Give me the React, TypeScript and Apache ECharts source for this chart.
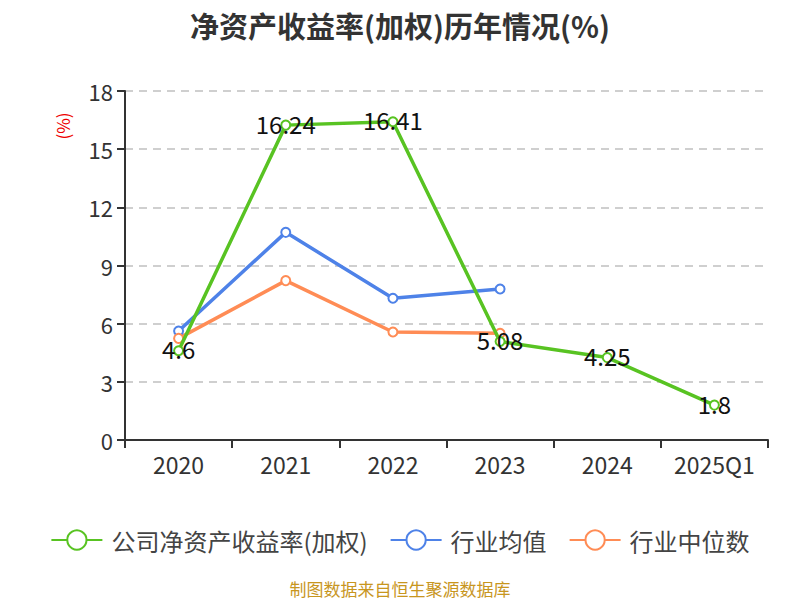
import React, { useEffect, useRef } from "react";
import * as echarts from "echarts";

const categories = ["2020", "2021", "2022", "2023", "2024", "2025Q1"];
const companyRoe = [4.6, 16.24, 16.41, 5.08, 4.25, 1.8];
const industryAvg = [5.62, 10.71, 7.31, 7.79, null, null];
const industryMedian = [5.24, 8.22, 5.57, 5.5, null, null];
const yTicks = [0, 3, 6, 9, 12, 15, 18];

const FONT = "'Noto Sans CJK SC', 'Noto Sans', sans-serif";

export default function App() {
  const ref = useRef<HTMLDivElement>(null);
  useEffect(() => {
    if (!ref.current) return;
    const chart = echarts.init(ref.current, null, { renderer: "svg" });
    const mk = (name: string, data: any[], color: string, withLabel: boolean) => ({
      name,
      type: "line",
      data,
      color,
      symbol: "emptyCircle",
      symbolSize: 9,
      showSymbol: true,
      connectNulls: false,
      lineStyle: { width: 3.5, color },
      itemStyle: { color, borderWidth: 1.5 },
      label: withLabel
        ? { show: true, position: "inside", offset: [0, -2], color: "#111", fontSize: 24, fontFamily: FONT }
        : { show: false },
      z: withLabel ? 3 : 2,
    });
    chart.setOption({
      animation: false,
      textStyle: { fontFamily: FONT },
      title: {
        text: "净资产收益率(加权)历年情况(%)",
        left: "center",
        top: 5,
        textStyle: { fontSize: 29, fontWeight: "bold", color: "#333", fontFamily: FONT },
      },
      grid: { left: 125, right: 32, top: 91, bottom: 160 },
      legend: {
        top: 523,
        left: "center",
        itemWidth: 51,
        itemHeight: 24,
        itemGap: 22,
        itemStyle: { borderWidth: 2 },
        textStyle: { fontSize: 24, color: "#444", fontFamily: FONT, padding: [0, 0, 0, 4] },
        data: [
          { name: "公司净资产收益率(加权)" },
          { name: "行业均值" },
          { name: "行业中位数" },
        ],
      },
      xAxis: {
        type: "category",
        data: categories,
        boundaryGap: true,
        axisLine: { lineStyle: { color: "#333", width: 2 } },
        axisTick: { show: true, length: 8, lineStyle: { color: "#333", width: 2 } },
        axisLabel: { fontSize: 23, color: "#333", margin: 12, fontFamily: FONT },
      },
      yAxis: {
        type: "value",
        min: yTicks[0],
        max: yTicks[yTicks.length - 1],
        interval: 3,
        axisLine: { show: true, lineStyle: { color: "#333", width: 2 } },
        axisTick: { show: true, length: 8, lineStyle: { color: "#333", width: 2 } },
        axisLabel: { fontSize: 22, color: "#333", margin: 12, fontFamily: FONT },
        splitLine: { lineStyle: { type: [8, 6], color: "#c0c0c0", width: 1.5 } },
      },
      graphic: [
        {
          type: "text",
          x: 62,
          y: 126,
          rotation: Math.PI / 2,
          style: {
            text: "(%)",
            fill: "#e00",
            fontSize: 17,
            fontFamily: FONT,
            align: "center",
            verticalAlign: "middle",
          },
        },
        {
          type: "text",
          x: 400,
          y: 588,
          style: {
            text: "制图数据来自恒生聚源数据库",
            fill: "#c8961e",
            fontSize: 17,
            fontFamily: FONT,
            align: "center",
            verticalAlign: "middle",
          },
        },
      ],
      series: [
        mk("公司净资产收益率(加权)", companyRoe, "#58c322", true),
        mk("行业均值", industryAvg, "#4e82e8", false),
        mk("行业中位数", industryMedian, "#ff8c55", false),
      ],
    });
    return () => chart.dispose();
  }, []);
  return (
    <div
      ref={ref}
      style={{ position: "absolute", left: 0, top: 0, width: 800, height: 600 }}
    />
  );
}
